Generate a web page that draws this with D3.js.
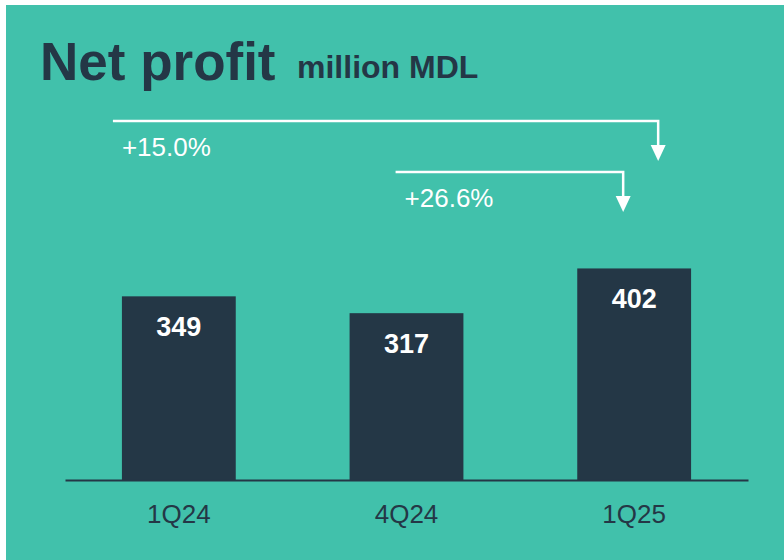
<!DOCTYPE html>
<html><head><meta charset="utf-8">
<script src="https://cdn.jsdelivr.net/npm/d3@7"></script>
<style>html,body{margin:0;padding:0;background:#fff;}svg{display:block;}</style>
</head><body><svg id="c" width="784" height="560"></svg>
<script>
const categories = ["1Q24", "4Q24", "1Q25"];
const values = [349, 317, 402];
const growthLabels = ["+15.0%", "+26.6%"];
const growthFrom = ["1Q24", "4Q24"];
const growthTo = ["1Q25", "1Q25"];

const BG = "#41c1ab", DARK = "#243746", FONT = "'Liberation Sans', Arial, sans-serif";
const svg = d3.select("#c");
svg.append("rect").attr("x", 6).attr("y", 5).attr("width", 778).attr("height", 555).attr("fill", BG);

svg.append("text").attr("x", 40).attr("y", 80).attr("fill", DARK)
  .attr("font-family", FONT).attr("font-weight", "bold").attr("font-size", 53)
  .text("Net profit");
svg.append("text").attr("x", 297).attr("y", 78).attr("fill", DARK)
  .attr("font-family", FONT).attr("font-weight", "bold").attr("font-size", 32)
  .text("million MDL");

const x = d3.scaleBand().domain(categories).range([65, 748]).paddingInner(0.5).paddingOuter(0.25);
const y = d3.scaleLinear().domain([0, 400]).range([480, 480 - 210.5]);

svg.selectAll("rect.bar").data(categories).join("rect").attr("class", "bar")
  .attr("x", d => x(d)).attr("width", x.bandwidth())
  .attr("y", (d, i) => y(values[i])).attr("height", (d, i) => y(0) - y(values[i]))
  .attr("fill", DARK);

svg.selectAll("text.val").data(categories).join("text").attr("class", "val")
  .attr("x", d => x(d) + x.bandwidth() / 2).attr("y", (d, i) => y(values[i]) + 39.5)
  .attr("text-anchor", "middle").attr("fill", "#fff")
  .attr("font-family", FONT).attr("font-weight", "bold").attr("font-size", 27)
  .text((d, i) => values[i]);

// axis
const axis = d3.axisBottom(x).tickSize(0).tickPadding(24.5);
const gAx = svg.append("g").attr("transform", `translate(0,${y(0)})`).call(axis);
gAx.select(".domain").attr("stroke", DARK).attr("stroke-width", 2);
gAx.selectAll("text").attr("fill", DARK).attr("font-family", FONT).attr("font-size", 26);

// growth arrows
const levels = [121, 172];
const startOff = [-9, 46];
const endOff = [24, -11];
growthLabels.forEach((lab, i) => {
  const x0 = x(growthFrom[i]) + startOff[i];
  const x1 = x(growthTo[i]) + x.bandwidth() / 2 + endOff[i];
  const yl = levels[i];
  const tipY = yl + 40;
  svg.append("path").attr("d", `M${x0},${yl}H${x1}V${tipY - 14}`)
    .attr("fill", "none").attr("stroke", "#fff").attr("stroke-width", 2.5);
  svg.append("path").attr("d", `M${x1 - 7.5},${tipY - 16}L${x1 + 7.5},${tipY - 16}L${x1},${tipY}Z`)
    .attr("fill", "#fff");
  svg.append("text").attr("x", x0 + 9).attr("y", yl + 35).attr("fill", "#fff")
    .attr("font-family", FONT).attr("font-size", 26).text(lab);
});
</script></body></html>
